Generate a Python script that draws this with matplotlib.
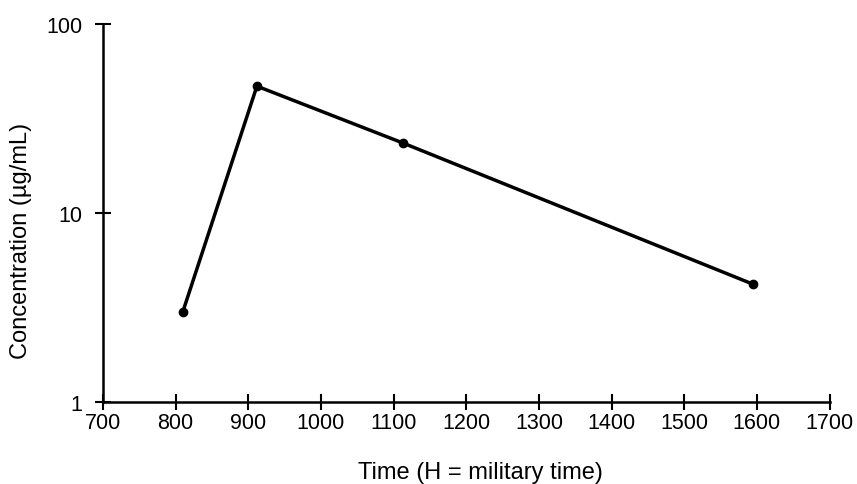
import numpy as np
import matplotlib.pyplot as plt

# sampling times (military clock) and measured concentrations
times = [810, 912, 1113, 1595]
conc = [3.0, 47.0, 23.5, 4.2]

x_ticks = [700, 800, 900, 1000, 1100, 1200, 1300, 1400, 1500, 1600, 1700]
y_ticks = [1, 10, 100]

plt.rcParams['font.family'] = ['Liberation Sans', 'DejaVu Sans']

fig = plt.figure(figsize=(8.57, 4.85), dpi=100)
ax = fig.add_axes([0.120, 0.169, 0.848, 0.779])

ax.plot(times, conc, color='black', linewidth=2.5, marker='o', markersize=6)

ax.set_yscale('log')
ax.set_xlim(700, 1700)
ax.set_ylim(1, 100)
ax.set_xticks(x_ticks)
ax.set_yticks(y_ticks)
ax.set_yticklabels([str(v) for v in y_ticks])
ax.yaxis.set_minor_locator(plt.NullLocator())

for side in ['top', 'right']:
    ax.spines[side].set_visible(False)
for side in ['left', 'bottom']:
    ax.spines[side].set_linewidth(1.8)

ax.tick_params(direction='inout', length=11, width=1.5, labelsize=15.5)
ax.tick_params(axis='x', pad=2)
ax.tick_params(axis='y', pad=9)

ax.set_xlabel('Time (H = military time)', fontsize=17)
ax.set_ylabel('Concentration (\u00b5g/mL)', fontsize=17)
ax.xaxis.set_label_coords(0.519, -0.156)
ax.yaxis.set_label_coords(-0.098, 0.43)

fig.savefig('out.png', dpi=100)
